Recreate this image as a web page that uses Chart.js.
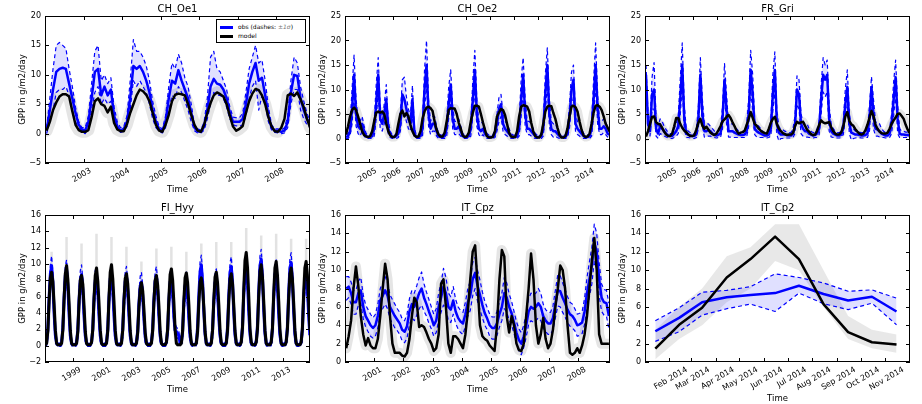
<!DOCTYPE html>
<html>
<head>
<meta charset="utf-8">
<script src="https://cdn.jsdelivr.net/npm/chart.js"></script>
<style>
  body { margin: 0; background: #fff; }
  #wrap { position: relative; width: 922px; height: 404px; overflow: hidden; background: #fff; }
  canvas { position: absolute; }
  #legend { position: absolute; left: 216px; top: 19px; width: 88px; height: 22px; border: 1px solid #000;
            background: #fff; font: 6px "DejaVu Sans", sans-serif; color: #000; z-index: 5; }
  #legend .row { position: absolute; left: 3px; height: 9px; line-height: 9px; white-space: nowrap; }
  #legend .swatch { display: inline-block; width: 13px; height: 3px; vertical-align: middle; margin-right: 5px; }
  #legend i { color: #777; }
</style>
</head>
<body>
<div id="wrap">
  <canvas id="c1" width="318" height="203" style="left:0px;top:0px"></canvas>
  <canvas id="c2" width="318" height="203" style="left:300px;top:0px"></canvas>
  <canvas id="c3" width="318" height="203" style="left:600px;top:0px"></canvas>
  <canvas id="c4" width="318" height="203" style="left:0px;top:199px"></canvas>
  <canvas id="c5" width="318" height="203" style="left:300px;top:199px"></canvas>
  <canvas id="c6" width="318" height="205" style="left:600px;top:199px"></canvas>
  <div id="legend">
    <div class="row" style="top:2px"><span class="swatch" style="background:#0000ff"></span>obs (dashes: <i>±1σ</i>)</div>
    <div class="row" style="top:11px"><span class="swatch" style="background:#000"></span>model</div>
  </div>
</div>
<script>
// ---- CH_Oe1, monthly from Jan 2002
var oe1Start = 2002
var oe1Model = [
  0.5, 2, 4, 5.3, 6.3, 6.7, 6.7, 6.3, 3.8, 1.5, 0.6, 0.3,
  0.3, 0.6, 2.8, 5.5, 6, 5, 4.7, 3.6, 4.6, 1.8, 0.7, 0.4,
  0.4, 1.6, 3.5, 5, 6.5, 7.5, 7.2, 6.6, 5.5, 3.5, 1.5, 0.5,
  0.3, 1.5, 3.2, 5.5, 6.6, 6.8, 6.7, 6.5, 5, 3.2, 1.5, 0.5,
  0.3, 1.5, 3.5, 5.2, 6.5, 7, 6.7, 6.3, 5, 3, 1.2, 0.5,
  0.8, 1.3, 3.5, 5.5, 6.8, 7.6, 7.4, 6.5, 5, 2.8, 1.2, 0.4,
  0.3, 1, 2.5, 6.5, 6.8, 6.4, 7, 5.8, 4.5, 2.5, 1]
var oe1Obs = [
  0.5, 4, 7.5, 10.5, 11, 11.2, 11, 8.5, 6, 3.5, 1.5, 0.7,
  0.5, 2, 6, 10.5, 11, 6.5, 8, 6.5, 7.5, 3, 1.2, 0.5,
  0.8, 2, 6, 11.5, 11, 11.5, 10.5, 9, 7, 4, 2, 0.8,
  0.4, 2, 6, 9, 8.5, 10.8, 9, 7.5, 6, 3.5, 1, 0.4,
  0.3, 1.2, 4, 8, 9.3, 8.5, 8.3, 7.5, 6, 3.5, 2, 2,
  2, 2.5, 5, 8.5, 10.5, 12, 9, 9.5, 6.5, 3, 1, 0.5,
  0.5, 0.3, 0.5, 2, 7, 10, 9.8, 6, 4, 2.5, 1.5]
var oe1Hi = [
  1, 6, 11, 15, 15.5, 15, 14.5, 11, 8, 4.5, 2, 1,
  1, 3, 8.5, 14, 15, 9, 10, 8.5, 9.5, 4.5, 2, 1,
  1.2, 3, 9, 16, 14, 14, 13, 11.5, 9, 5.5, 3, 1.2,
  0.8, 3, 8, 12, 11, 13.5, 12, 9.5, 8, 5, 1.5, 0.8,
  0.6, 2, 6, 13, 14, 11, 10.5, 9, 7.5, 4.5, 2.8, 2.7,
  2.7, 3.5, 7, 11, 13, 15, 12, 12.5, 9, 4.5, 1.5, 0.8,
  0.8, 0.6, 1, 3, 9, 13, 12, 8, 5.5, 3.5, 2]
var oe1Lo = [
  0, 2, 4, 7, 7.5, 7.5, 8, 6.5, 4, 2, 1, 0.3,
  0, 1, 4, 7, 8, 5, 6, 5, 5.5, 2, 0.7, 0.2,
  0.4, 1.2, 4, 9, 8, 9, 8, 7, 5, 2.5, 1, 0.4,
  0.1, 1, 4, 6.5, 6, 8, 7, 5.5, 4, 2, 0.5, 0.1,
  0.1, 0.6, 2.5, 5, 7, 6.5, 6.5, 6, 4.5, 2.5, 1.5, 1.3,
  1.3, 1.5, 3, 6, 8, 9, 4, 6.5, 5, 2, 0.6, 0.2,
  0.1, 0, 0.1, 1, 5, 7.5, 7.5, 4, 2.5, 1.5, 1]

// ---- CH_Oe2, monthly from Jan 2004
var oe2Start = 2004
var oe2Model = [
  0.8, 2.5, 4.5, 5.8, 6.3, 5.8, 4.5, 3, 1.5, 0.7, 0.4, 0.3,
  0.5, 1.5, 3.5, 5.3, 5.5, 5.3, 5.5, 5, 3, 1.5, 0.6, 0.3,
  0.3, 0.8, 3, 5, 5.7, 4.5, 5.2, 4.5, 2.8, 1.5, 0.6, 0.3,
  0.4, 1.5, 4, 5.5, 6.3, 6.5, 6.2, 5.6, 3.5, 1.8, 0.8, 0.4,
  0.4, 1.2, 3.5, 5.8, 6.2, 6.1, 6.1, 5, 3.2, 2, 0.6, 0.3,
  0.4, 1.2, 3.5, 5.3, 6.7, 6.7, 6.5, 5, 3.3, 1.8, 0.5, 0.2,
  0.2, 0.4, 1.5, 4.5, 5.3, 6, 5.8, 4.8, 3, 1.2, 0.4, 0.3,
  0.3, 1.5, 4.5, 6.5, 6.8, 6.7, 6.5, 5.5, 3.2, 1.5, 0.5, 0.2,
  0.2, 0.8, 3, 5.5, 6.5, 6.7, 6.6, 5.2, 4, 2.3, 0.8, 0.2,
  0.2, 0.5, 2, 4.5, 6.5, 6.7, 6.4, 5.5, 3.5, 1.8, 0.6, 0.3,
  0.4, 1, 3, 5.3, 6.7, 6.8, 6.5, 5.8, 4.5, 3, 2.2, 1.4]
var oe2Obs = [
  0.3, 0.5, 1.5, 6, 13, 5, 2.5, 2, 3, 1.5, 0.5, 0.3,
  0.3, 0.5, 2, 7, 13, 4, 3, 5, 8, 2, 0.8, 0.3,
  0.3, 0.5, 1, 3, 9, 8, 6, 4, 3, 8, 1, 0.3,
  0.3, 0.5, 2, 10, 15, 5, 2, 3, 3, 1.5, 0.5, 0.3,
  0.3, 0.5, 2, 7, 11, 4, 2, 2, 2.5, 1.5, 0.5, 0.3,
  0.3, 0.5, 2, 8, 14, 5, 2, 1.5, 2, 1, 0.5, 0.3,
  0.3, 0.3, 1, 3, 6, 7, 3, 2, 1.5, 1, 0.5, 0.3,
  0.3, 0.5, 2, 8, 13, 5, 2, 2, 1.5, 1, 0.5, 0.3,
  0.3, 0.5, 2, 9, 15, 5, 2, 1.5, 1.5, 1, 0.5, 0.3,
  0.3, 0.3, 1, 4, 10, 12, 3, 2, 1.5, 1, 0.5, 0.3,
  0.3, 0.5, 2, 8, 15, 6, 2, 2, 2.5, 2, 1, 0.8]
var oe2Hi = [
  0.8, 1, 3, 10, 17, 8, 4, 3.5, 4.5, 2.5, 1, 0.7,
  0.7, 1, 3.5, 11, 16.5, 6.5, 4.5, 7, 11, 3.5, 1.5, 0.7,
  0.7, 1, 2, 5, 12, 12.5, 8.5, 6, 4.5, 10.8, 2, 0.7,
  0.7, 1, 3.5, 14, 20, 8, 3.5, 4.5, 4.5, 2.5, 1, 0.7,
  0.7, 1, 3.5, 10.5, 14, 6.5, 3.5, 3.5, 4, 2.5, 1, 0.7,
  0.7, 1, 3.5, 12, 18, 8, 3.5, 3, 3.5, 2, 1, 0.7,
  0.7, 0.7, 2, 5, 8.5, 9, 5, 3.5, 3, 2, 1, 0.7,
  0.7, 1, 3.5, 12, 16.5, 8, 3.5, 3.5, 3, 2, 1, 0.7,
  0.7, 1, 3.5, 13, 18.5, 8, 3.5, 3, 3, 2, 1, 0.7,
  0.7, 0.7, 2, 6.5, 13.5, 15, 5, 3.5, 3, 2, 1, 0.7,
  0.7, 1, 3.5, 12, 19.5, 9, 3.5, 3.5, 4, 3.5, 2, 1.5]
var oe2Lo = [
  0, 0, 0.5, 3, 9, 2.5, 1, 0.5, 1.5, 0.5, 0, 0,
  0, 0, 0.5, 4, 9.5, 2, 1.5, 3, 5, 0.8, 0.2, 0,
  0, 0, 0.2, 1.5, 6, 5, 3.5, 2, 1.5, 5, 0.2, 0,
  0, 0, 0.5, 6, 11, 2.5, 0.8, 1.5, 1.5, 0.5, 0, 0,
  0, 0, 0.5, 4, 8, 2, 0.8, 0.8, 1, 0.5, 0, 0,
  0, 0, 0.5, 4.5, 10, 2.5, 0.8, 0.3, 0.8, 0.2, 0, 0,
  0, 0, 0.2, 1.5, 3.5, 4.5, 1.5, 0.8, 0.5, 0.2, 0, 0,
  0, 0, 0.5, 4.5, 9.5, 2.5, 0.8, 0.8, 0.5, 0.2, 0, 0,
  0, 0, 0.5, 5, 11, 2.5, 0.8, 0.3, 0.5, 0.2, 0, 0,
  0, 0, 0.2, 2, 6.5, 8.5, 1.5, 0.8, 0.5, 0.2, 0, 0,
  0, 0, 0.5, 4.5, 11, 3, 0.8, 0.8, 1.2, 0.8, 0.3, 0.2]

// ---- FR_Gri, monthly from Jan 2004
var griStart = 2004
var griModel = [
  0.4, 1.5, 3, 4.4, 4.5, 3.3, 3, 2.9, 2.2, 1.4, 0.8, 0.5,
  0.5, 1, 2.5, 4.2, 4.2, 3, 2.2, 1.6, 1.3, 0.8, 0.5, 0.5,
  0.7, 1.8, 3.2, 4, 2.6, 2, 2.4, 1.8, 1.2, 0.9, 0.7, 1,
  1.7, 2.5, 3.5, 3.9, 4.4, 4.8, 4.2, 3.3, 2.5, 1.6, 1, 1.2,
  1.3, 1.6, 2.8, 4, 5.4, 4.2, 3, 2.6, 2, 1.6, 1.3, 1.1,
  1, 2, 3.2, 4, 4.4, 3, 2, 1.5, 1.1, 0.9, 0.7, 0.8,
  0.8, 1.1, 2.5, 3.4, 3.1, 3.3, 3.4, 2.6, 1.8, 1.4, 0.9, 0.7,
  0.8, 1.6, 2.8, 3.7, 3.3, 3.1, 3.2, 3.4, 2.3, 1.5, 1, 0.8,
  0.8, 1.3, 2.5, 4.5, 5.4, 3.6, 2.9, 2.6, 1.9, 1.4, 1, 0.8,
  1, 1.7, 2.8, 4.2, 5.6, 4.6, 2.8, 2, 1.4, 1.1, 1, 1,
  1.2, 2, 3, 3.7, 4.3, 5, 5.1, 4.6, 4, 2.8, 1.8, 1.1]
var griObs = [
  13, 3, 1.5, 9, 10, 2, 1, 2.5, 2, 1.5, 1, 0.6,
  0.5, 0.5, 1, 1.5, 2.5, 8, 15, 4, 1, 0.8, 0.6, 0.5,
  0.5, 0.8, 4, 13, 5, 1.5, 1.5, 1.8, 1.5, 1, 0.8, 0.6,
  0.8, 1, 4, 12, 6, 1.5, 1.5, 1.5, 1.2, 1, 0.8, 0.7,
  0.7, 0.8, 1.5, 5, 14, 9, 2, 1.5, 1.2, 1, 0.8, 0.6,
  0.6, 0.8, 2, 9, 14, 3, 1.2, 0.8, 0.8, 0.8, 0.7, 0.6,
  0.6, 1, 2.5, 10, 9, 3, 2, 1.5, 1.5, 1, 0.8, 0.6,
  0.7, 1, 2, 8, 13, 12, 13, 4, 1.5, 1, 0.8, 0.6,
  0.6, 0.8, 2, 7, 10.5, 3, 1.2, 1, 0.8, 0.8, 0.7, 0.6,
  0.6, 0.7, 1, 4, 10.5, 5, 2, 1.8, 1.5, 1, 0.8, 0.6,
  0.6, 1, 3, 8, 12.5, 4, 1, 0.8, 0.8, 0.7, 0.7, 0.6]
var griHi = [
  15, 5, 3, 12.5, 15.5, 4, 2.5, 4, 3.5, 2.5, 1.8, 1.2,
  1, 1, 2, 3, 4.5, 12, 19.5, 7, 2, 1.5, 1.2, 1,
  1, 1.5, 6.5, 16.5, 8, 3, 3, 3, 2.5, 2, 1.5, 1.2,
  1.5, 2, 6.5, 15.3, 9, 3, 3, 3, 2.5, 2, 1.5, 1.3,
  1.3, 1.5, 3, 8, 18, 13, 3.5, 3, 2.5, 2, 1.5, 1.2,
  1.2, 1.5, 3.5, 13, 17.7, 5.5, 2.5, 1.8, 1.8, 1.5, 1.3, 1.2,
  1.2, 2, 4.5, 12.8, 12, 5, 3.5, 3, 3, 2, 1.5, 1.2,
  1.3, 2, 3.5, 11, 16.5, 15, 16, 6.5, 3, 2, 1.5, 1.2,
  1.2, 1.5, 3.5, 10, 14, 5, 2.5, 2, 1.5, 1.5, 1.3, 1.2,
  1.2, 1.3, 2, 6.5, 12.6, 8, 3.5, 3, 3, 2, 1.5, 1.2,
  1.2, 2, 5, 11.5, 16, 7, 2, 1.5, 1.5, 1.3, 1.3, 1.2]
var griLo = [
  12, 1.5, 0.5, 6, 6, 0.5, 0, 1, 0.8, 0.5, 0.3, 0.1,
  0, 0, 0.2, 0.5, 1, 4.5, 11, 2, 0.2, 0.2, 0.1, 0,
  0, 0.2, 2, 9.5, 2.5, 0.3, 0.3, 0.5, 0.5, 0.2, 0.2, 0.1,
  0.2, 0.2, 2, 9, 3, 0.3, 0.3, 0.3, 0.2, 0.2, 0.2, 0.2,
  0.2, 0.2, 0.3, 2.5, 10, 5.5, 0.8, 0.3, 0.2, 0.2, 0.2, 0.1,
  0.1, 0.2, 0.5, 5.5, 10, 0.8, -0.5, 0, 0, 0.1, 0.1, 0.1,
  0.1, 0.2, 1, 7, 6, 1, 0.5, 0.3, 0.3, 0.2, 0.2, 0.1,
  0.2, 0.2, 0.8, 5, 9.5, 8.5, 9.5, 1.5, 0.3, 0.2, 0.2, 0.1,
  0.1, 0.2, 0.8, 4, 7, 1, -0.3, 0, 0.1, 0.2, 0.2, 0.1,
  0.1, 0.2, 0.2, 1.5, 8, 2, 0.5, 0.5, 0.3, 0.2, 0.2, 0.1,
  0.1, 0.2, 1, 4.5, 9, 1, 0.2, 0.2, 0.2, 0.2, 0.2, 0.1]

// ---- FI_Hyy, monthly from Jan 1997
var hyyStart = 1997
var hyyModel = [
  0.1, 0.1, 0.3, 1.8, 5.5, 8.3, 9.0, 7.8, 5.0, 1.9, 0.3, 0.1,
  0.1, 0.1, 0.3, 1.9, 5.7, 8.8, 9.8, 8.1, 5.2, 1.8, 0.3, 0.1,
  0.1, 0.1, 0.3, 1.7, 5.3, 8.0, 8.6, 7.5, 4.8, 1.7, 0.3, 0.1,
  0.1, 0.1, 0.4, 2.0, 5.8, 8.6, 9.5, 7.9, 5.1, 1.9, 0.3, 0.1,
  0.1, 0.1, 0.3, 1.8, 5.9, 9.0, 9.9, 8.2, 5.3, 1.9, 0.3, 0.1,
  0.1, 0.1, 0.3, 1.9, 5.5, 8.2, 8.8, 7.6, 4.9, 1.8, 0.3, 0.1,
  0.1, 0.1, 0.3, 1.6, 4.8, 7.0, 7.7, 6.7, 4.4, 1.6, 0.3, 0.1,
  0.1, 0.1, 0.3, 1.8, 5.4, 8.0, 8.6, 7.4, 4.8, 1.7, 0.3, 0.1,
  0.1, 0.1, 0.4, 2.0, 5.8, 8.7, 9.4, 8.0, 5.2, 1.9, 0.3, 0.1,
  0.1, 0.1, 0.3, 1.8, 5.5, 8.3, 8.9, 7.7, 5.0, 1.8, 0.3, 0.1,
  0.1, 0.1, 0.3, 1.7, 5.2, 7.8, 8.3, 7.2, 4.7, 1.7, 0.3, 0.1,
  0.1, 0.1, 0.3, 1.9, 5.6, 8.4, 9.0, 7.7, 5.0, 1.8, 0.3, 0.1,
  0.1, 0.1, 0.3, 1.8, 5.5, 8.2, 8.8, 7.6, 4.9, 1.8, 0.3, 0.1,
  0.1, 0.1, 0.4, 2.2, 6.8, 10.4, 11.4, 9.6, 6.0, 2.1, 0.4, 0.1,
  0.1, 0.1, 0.4, 2.0, 6.1, 9.1, 9.9, 8.4, 5.4, 1.9, 0.3, 0.1,
  0.1, 0.1, 0.4, 2.1, 6.3, 9.5, 10.3, 8.7, 5.5, 2.0, 0.3, 0.1,
  0.1, 0.1, 0.4, 2.0, 5.8, 8.8, 9.5, 8.1, 5.2, 1.9, 0.3, 0.1,
  0.1, 0.1, 0.4, 2.1, 6.3, 9.5, 10.3, 8.7, 5.5, 2.0]
var hyyObs = [
  0.1, 0.1, 0.4, 2.0, 5.8, 8.8, 9.8, 7.8, 4.0, 1.3, 0.3, 0.1,
  0.1, 0.1, 0.4, 2.1, 5.9, 8.6, 9.3, 7.4, 3.9, 1.2, 0.3, 0.1,
  0.1, 0.1, 0.4, 1.9, 5.6, 8.0, 8.7, 6.9, 3.6, 1.2, 0.3, 0.1,
  0.1, 0.1, 0.4, 2.0, 5.7, 8.0, 8.5, 6.8, 3.6, 1.2, 0.3, 0.1,
  0.1, 0.1, 0.4, 2.0, 5.8, 8.2, 8.8, 7.0, 3.7, 1.2, 0.3, 0.1,
  0.1, 0.1, 0.4, 2.0, 5.6, 7.9, 8.5, 6.8, 3.6, 1.2, 0.3, 0.1,
  0.1, 0.1, 0.4, 1.8, 5.2, 7.3, 7.8, 6.2, 3.3, 1.1, 0.3, 0.1,
  0.1, 0.1, 0.4, 2.0, 5.6, 7.9, 8.5, 6.8, 3.6, 1.2, 0.3, 0.1,
  0.1, 0.1, 0.4, 1.9, 5.5, 7.8, 8.3, 6.6, 3.5, 1.9, 1.7, 1.5,
  1.2, 0.3, 0.4, 1.8, 5.2, 7.3, 7.8, 6.2, 3.3, 1.1, 0.3, 0.1,
  0.1, 0.1, 0.4, 2.2, 6.2, 9.1, 9.9, 7.9, 4.2, 1.4, 0.3, 0.1,
  0.1, 0.1, 0.4, 1.9, 5.4, 7.7, 8.2, 6.6, 3.5, 1.2, 0.3, 0.1,
  0.1, 0.1, 0.4, 2.2, 6.1, 9.0, 9.7, 7.8, 4.1, 1.3, 0.3, 0.1,
  0.1, 0.1, 0.5, 2.3, 6.3, 9.2, 9.8, 7.9, 4.2, 1.4, 0.3, 0.1,
  0.1, 0.1, 0.5, 2.4, 6.6, 9.8, 10.6, 8.4, 4.5, 1.5, 0.3, 0.1,
  0.1, 0.1, 0.4, 2.1, 5.9, 8.7, 9.3, 7.4, 3.9, 1.3, 0.3, 0.1,
  0.1, 0.1, 0.5, 2.3, 6.4, 9.5, 10.2, 8.1, 4.3, 1.4, 0.3, 0.1,
  0.1, 0.1, 0.4, 2.0, 5.7, 8.2, 8.8, 7.1, 3.8, 1.3]
var hyyHi = [
  0.3, 0.3, 0.8, 3.0, 7.0, 10.0, 11.0, 9.0, 5.0, 2.0, 0.6, 0.3,
  0.3, 0.3, 0.8, 3.1, 7.1, 9.8, 10.5, 8.6, 4.9, 1.9, 0.6, 0.3,
  0.3, 0.3, 0.8, 2.9, 6.8, 9.2, 9.9, 8.1, 4.6, 1.9, 0.6, 0.3,
  0.3, 0.3, 0.8, 3.0, 6.9, 9.2, 9.7, 8.0, 4.6, 1.9, 0.6, 0.3,
  0.3, 0.3, 0.8, 3.0, 7.0, 9.4, 10.0, 8.2, 4.7, 1.9, 0.6, 0.3,
  0.3, 0.3, 0.8, 3.0, 6.8, 9.1, 9.7, 8.0, 4.6, 1.9, 0.6, 0.3,
  0.3, 0.3, 0.8, 2.8, 6.4, 8.5, 9.0, 7.4, 4.3, 1.8, 0.6, 0.3,
  0.3, 0.3, 0.8, 3.0, 6.8, 9.1, 9.7, 8.0, 4.6, 1.9, 0.6, 0.3,
  0.3, 0.3, 0.8, 2.9, 6.7, 9.0, 9.5, 7.8, 4.5, 2.6, 2.3, 2.1,
  1.8, 0.6, 0.8, 2.8, 6.4, 8.5, 9.0, 7.4, 4.3, 1.8, 0.6, 0.3,
  0.3, 0.3, 0.8, 3.2, 7.4, 10.3, 11.1, 9.1, 5.2, 2.1, 0.6, 0.3,
  0.3, 0.3, 0.8, 2.9, 6.6, 8.9, 9.4, 7.8, 4.5, 1.9, 0.6, 0.3,
  0.3, 0.3, 0.8, 3.2, 7.3, 10.2, 10.9, 9.0, 5.1, 2.0, 0.6, 0.3,
  0.3, 0.3, 0.9, 3.3, 7.5, 10.4, 11.0, 9.1, 5.2, 2.1, 0.6, 0.3,
  0.3, 0.3, 0.9, 3.4, 7.8, 11.0, 11.8, 9.6, 5.5, 2.2, 0.6, 0.3,
  0.3, 0.3, 0.8, 3.1, 7.1, 9.9, 10.5, 8.6, 4.9, 2.0, 0.6, 0.3,
  0.3, 0.3, 0.9, 3.3, 7.6, 10.7, 11.4, 9.3, 5.3, 2.1, 0.6, 0.3,
  0.3, 0.3, 0.8, 3.0, 6.9, 9.4, 10.0, 8.3, 4.8, 2.0]
var hyyLo = [
  -0.1, -0.1, 0.0, 1.0, 4.3, 7.2, 8.2, 6.4, 3.0, 0.6, 0.0, -0.1,
  -0.1, -0.1, 0.0, 1.1, 4.4, 7.0, 7.7, 6.0, 2.9, 0.5, 0.0, -0.1,
  -0.1, -0.1, 0.0, 0.9, 4.1, 6.4, 7.1, 5.5, 2.6, 0.5, 0.0, -0.1,
  -0.1, -0.1, 0.0, 1.0, 4.2, 6.4, 6.9, 5.4, 2.6, 0.5, 0.0, -0.1,
  -0.1, -0.1, 0.0, 1.0, 4.3, 6.6, 7.2, 5.6, 2.7, 0.5, 0.0, -0.1,
  -0.1, -0.1, 0.0, 1.0, 4.1, 6.3, 6.9, 5.4, 2.6, 0.5, 0.0, -0.1,
  -0.1, -0.1, 0.0, 0.8, 3.8, 5.7, 6.2, 4.8, 2.3, 0.4, 0.0, -0.1,
  -0.1, -0.1, 0.0, 1.0, 4.1, 6.3, 6.9, 5.4, 2.6, 0.5, 0.0, -0.1,
  -0.1, -0.1, 0.0, 0.9, 4.0, 6.2, 6.7, 5.2, 2.5, 1.2, 1.1, 0.9,
  0.6, 0.0, 0.0, 0.8, 3.8, 5.7, 6.2, 4.8, 2.3, 0.4, 0.0, -0.1,
  -0.1, -0.1, 0.0, 1.2, 4.7, 7.5, 8.3, 6.5, 3.2, 0.6, 0.0, -0.1,
  -0.1, -0.1, 0.0, 0.9, 3.9, 6.1, 6.6, 5.2, 2.5, 0.5, 0.0, -0.1,
  -0.1, -0.1, 0.0, 1.2, 4.6, 7.4, 8.1, 6.4, 3.1, 0.6, 0.0, -0.1,
  -0.1, -0.1, 0.1, 1.3, 4.8, 7.6, 8.2, 6.5, 3.2, 0.6, 0.0, -0.1,
  -0.1, -0.1, 0.1, 1.4, 5.1, 8.2, 9.0, 7.0, 3.5, 0.7, 0.0, -0.1,
  -0.1, -0.1, 0.0, 1.1, 4.4, 7.1, 7.7, 6.0, 2.9, 0.5, 0.0, -0.1,
  -0.1, -0.1, 0.1, 1.3, 4.9, 7.9, 8.6, 6.7, 3.3, 0.6, 0.0, -0.1,
  -0.1, -0.1, 0.0, 1.0, 4.2, 6.6, 7.2, 5.7, 2.8, 0.5]
// highest daily model value of each summer (grey spikes above the humps)
var hyyGreyPeak = [11.5, 13.3, 12.5, 13.7, 13.3, 12.1, 10.3, 11.9, 12.1, 11.5, 12.5, 12.7, 12.7, 14.4, 13.5, 13.7, 13.1, 13.1]

// ---- IT_Cpz, monthly from Jan 2000
var cpzStart = 2000
var cpzModel = [
  1.5, 2.8, 4.5, 8, 10.4, 8.2, 5, 3, 1.8, 2.6, 1.8, 1.5,
  1.5, 2.5, 5, 8, 10.7, 9, 5, 2, 1, 1, 1, 0.7,
  0.6, 1, 2.5, 5, 7, 6.5, 3.8, 4, 3.8, 3.2, 2.5, 2,
  1.2, 1.5, 3, 8.5, 9, 6, 2, 1, 2.8, 2.8, 2.5, 2,
  1.5, 3, 5.5, 9, 12, 12.7, 8.5, 4, 2.8, 2.5, 2.3, 1.8,
  1.5, 1.2, 4, 9, 12.2, 11.5, 5, 3.2, 5, 4, 2, 1.3,
  1.2, 2, 5, 8, 11.8, 9, 4, 2, 3, 4.8, 2.5, 1.5,
  2, 3.5, 6, 8, 10.5, 10, 8, 4, 1, 0.8, 1, 1.5,
  1, 1.8, 3, 5, 8, 11, 13.5, 10, 3, 2, 2, 2,
  2]
var cpzObs = [
  8, 8.2, 7.5, 6.5, 6.5, 7.5, 7.8, 6, 5, 4.5, 4, 3.7,
  4, 5, 6.7, 7.2, 7.8, 7.2, 6, 5.5, 5, 4.6, 4.2, 3.5,
  3.3, 3.9, 5.5, 6.3, 6, 6.7, 7.5, 8, 7, 6.3, 5.5, 4.8,
  4, 4.5, 6, 7, 8.2, 7.5, 6, 5.7, 6.7, 5.5, 4.8, 4.4,
  4.2, 5.2, 6.5, 7.2, 9, 9.7, 8.3, 7.3, 6.2, 5.3, 4.7, 4,
  3.7, 3.7, 4.2, 5.2, 6, 7.5, 7, 6, 5.3, 4.3, 3.2, 2.4,
  2, 2.8, 4, 5.5, 6, 5.8, 6, 6.4, 6, 5, 4.5, 4.2,
  4.2, 4.8, 6.3, 7.8, 7.7, 7, 6.4, 5.7, 5.2, 5, 4.6, 4,
  4.1, 4.3, 5.5, 7.5, 9, 10.5, 13, 12, 9, 7, 6.5, 6.4,
  5]
var cpzHi = [
  9.3, 9.3, 8.7, 7.8, 7.8, 8.8, 9.2, 7.3, 6.2, 5.7, 5.2, 4.8,
  5.2, 6.3, 8, 8.6, 9.3, 8.6, 7.3, 6.8, 6.3, 5.8, 5.4, 4.7,
  4.5, 5.2, 6.9, 7.8, 7.5, 8.3, 9.2, 9.8, 8.5, 7.6, 6.8, 6,
  5.2, 5.8, 7.5, 8.6, 10.2, 9.2, 7.5, 7.1, 8.2, 6.8, 6, 5.6,
  5.4, 6.5, 8, 8.8, 10.8, 11.4, 10, 8.9, 7.6, 6.6, 5.9, 5.2,
  4.9, 4.9, 5.5, 6.6, 7.5, 9.2, 8.6, 7.4, 6.6, 5.5, 4.4, 3.6,
  3.2, 4, 5.3, 6.9, 7.5, 7.3, 7.5, 8, 7.5, 6.3, 5.7, 5.4,
  5.4, 6.1, 7.8, 9.5, 9.4, 8.6, 7.9, 7.1, 6.5, 6.3, 5.8, 5.2,
  5.3, 5.5, 6.9, 9.2, 10.9, 12.5, 15, 14, 10.8, 8.5, 7.9, 7.8,
  6.4]
var cpzLo = [
  6.7, 7, 6.3, 5.2, 5.2, 6.2, 6.4, 4.7, 3.8, 3.3, 2.8, 2.6,
  2.8, 3.7, 5.4, 5.8, 6.3, 5.8, 4.7, 4.2, 3.7, 3.4, 3, 2.3,
  2.1, 2.6, 4.1, 4.8, 4.5, 5.1, 5.8, 6.2, 5.5, 5, 4.2, 3.6,
  2.8, 3.2, 4.5, 5.4, 6.2, 5.8, 4.5, 4.3, 5.2, 4.2, 3.6, 3.2,
  3, 3.9, 5, 5.6, 7.2, 8, 6.6, 5.7, 4.8, 4, 3.5, 2.8,
  2.5, 2.5, 2.9, 3.8, 4.5, 5.8, 5.4, 4.6, 4, 3.1, 2, 1.2,
  0.8, 1.6, 2.7, 4.1, 4.5, 4.3, 4.5, 4.8, 4.5, 3.7, 3.3, 3,
  3, 3.5, 4.8, 6.1, 6, 5.4, 4.9, 4.3, 3.9, 3.7, 3.4, 2.8,
  2.9, 3.1, 4.1, 5.8, 7.1, 8.5, 11, 10, 7.2, 5.5, 5.1, 5,
  3.6]

// ---- IT_Cp2, monthly means of 2014 (x = day of year)
var cp2Days = [14, 44, 73, 104, 134, 165, 195, 226, 257, 287, 318]
var cp2Model = [1.45, 4.05, 5.9, 9.2, 11.2, 13.65, 11.2, 6.3, 3.25, 2.15, 1.9]
var cp2Obs = [3.35, 4.8, 6.5, 7.05, 7.3, 7.5, 8.3, 7.4, 6.7, 7.1, 5.5]
var cp2Hi = [4.5, 5.9, 7.6, 7.8, 8.2, 9.6, 9.2, 8.6, 7.7, 7.85, 6.95]
var cp2Lo = [2.25, 3.3, 5.1, 5.8, 6.3, 5.5, 7.5, 6.35, 5.7, 6.4, 4.05]
var cp2GreyHi = [3.5, 6, 8, 11.5, 12.5, 15, 15, 10, 5, 3.5, 3]
var cp2GreyLo = [0.3, 2.5, 4, 6.5, 8, 11, 10, 6, 2.5, 1.5, 1]
var cp2TickDays = [31, 59, 90, 120, 151, 181, 212, 243, 273, 304]
var cp2TickLabels = ['Feb 2014', 'Mar 2014', 'Apr 2014', 'May 2014', 'Jun 2014',
                     'Jul 2014', 'Aug 2014', 'Sep 2014', 'Oct 2014', 'Nov 2014']

Chart.defaults.font.family = '"DejaVu Sans", sans-serif'
Chart.defaults.color = '#000'
Chart.defaults.elements.point.radius = 0

function monthly(start, vals) {
    return vals.map(function (v, i) { return {x: start + (i + 0.5) / 12, y: v} })
}
function byDay(vals) {
    return vals.map(function (v, i) { return {x: cp2Days[i], y: v} })
}

// frame, inward ticks on all four sides and the panel title
var framePlugin = {
    id: 'frame',
    afterDraw: function (chart, args, opts) {
        var ctx = chart.ctx, a = chart.chartArea, sx = chart.scales.x, sy = chart.scales.y
        ctx.save()
        ctx.strokeStyle = '#000'
        ctx.lineWidth = 1
        ctx.beginPath()
        sx.ticks.forEach(function (t) {
            var px = Math.round(sx.getPixelForValue(t.value)) + 0.5
            ctx.moveTo(px, a.top); ctx.lineTo(px, a.top + 4)
            ctx.moveTo(px, a.bottom); ctx.lineTo(px, a.bottom - 4)
        })
        sy.ticks.forEach(function (t) {
            var py = Math.round(sy.getPixelForValue(t.value)) + 0.5
            ctx.moveTo(a.left, py); ctx.lineTo(a.left + 4, py)
            ctx.moveTo(a.right, py); ctx.lineTo(a.right - 4, py)
        })
        ctx.stroke()
        ctx.strokeRect(a.left + 0.5, a.top + 0.5, a.right - a.left - 1, a.bottom - a.top - 1)
        ctx.fillStyle = '#000'
        ctx.font = '10px "DejaVu Sans", sans-serif'
        ctx.textAlign = 'center'
        ctx.textBaseline = 'middle'
        ctx.fillText(opts.text, (a.left + a.right) / 2, a.top - 7)
        ctx.restore()
    }
}

function panel(id, p) {
    var line = {borderJoinStyle: 'round', clip: 0, fill: false}
    var lw = p.lw || 2.5
    var ds = []
    if (p.greyHi) {
        ds.push(Object.assign({}, line, {data: p.greyHi, borderWidth: 0, fill: '+1', backgroundColor: 'rgba(150,150,150,0.22)', order: 8}))
        ds.push(Object.assign({}, line, {data: p.greyLo, borderWidth: 0, order: 8}))
    } else {
        ds.push(Object.assign({}, line, {data: p.model, borderColor: 'rgba(150,150,150,0.25)', borderWidth: p.haze, borderCapStyle: 'round', order: 8}))
    }
    if (p.spikes) {
        ds.push(Object.assign({}, line, {data: p.spikes, borderColor: 'rgba(160,160,160,0.3)', borderWidth: 2.5, spanGaps: false, order: 7}))
    }
    ds.push(Object.assign({}, line, {data: p.hi, borderColor: '#0000ff', borderWidth: 1.2, borderDash: [4, 3], fill: '+1', backgroundColor: 'rgba(0,0,255,0.12)', order: 5}))
    ds.push(Object.assign({}, line, {data: p.lo, borderColor: '#0000ff', borderWidth: 1.2, borderDash: [4, 3], order: 5}))
    ds.push(Object.assign({}, line, {data: p.obs, borderColor: '#0000ff', borderWidth: lw, order: 3}))
    ds.push(Object.assign({}, line, {data: p.model, borderColor: '#000', borderWidth: lw, order: 2}))

    new Chart(document.getElementById(id), {
        type: 'line',
        data: {datasets: ds},
        plugins: [framePlugin],
        options: {
            responsive: false,
            animation: false,
            events: [],
            devicePixelRatio: 1,
            layout: {padding: {top: 16, right: 8, left: 0, bottom: 0}},
            plugins: {legend: {display: false}, tooltip: {enabled: false}, frame: {text: p.title}},
            scales: {
                x: {
                    type: 'linear', min: p.xmin, max: p.xmax,
                    grid: {display: false, drawTicks: false}, border: {display: false},
                    afterBuildTicks: function (s) { s.ticks = p.xticks.map(function (v) { return {value: v} }) },
                    afterFit: function (s) { s.height = p.xh },
                    ticks: {
                        autoSkip: false, minRotation: 30, maxRotation: 30, padding: 3,
                        labelOffset: p.labelOffset, font: {size: 8},
                        callback: function (v) { return p.xlabel(v) }
                    },
                    title: {display: true, text: 'Time', font: {size: 8.5}, padding: {top: 0, bottom: p.timePad}}
                },
                y: {
                    min: p.ymin, max: p.ymax,
                    grid: {display: false, drawTicks: false}, border: {display: false},
                    afterFit: function (s) { s.width = 45 },
                    ticks: {
                        stepSize: p.ystep, padding: 4, font: {size: 8},
                        callback: function (v) { return v < 0 ? '\u2212' + (-v) : String(v) }
                    },
                    title: {display: true, text: 'GPP in g/m2/day', font: {size: 8.5}, padding: {top: 18, bottom: 0}}
                }
            }
        }
    })
}

function yearLabel(v) { return String(v) }
function range(a, b, step) { var r = []; for (var v = a; v <= b; v += step) r.push(v); return r }

function initCharts() {
    panel('c1', {
        title: 'CH_Oe1', model: monthly(oe1Start, oe1Model), obs: monthly(oe1Start, oe1Obs),
        hi: monthly(oe1Start, oe1Hi), lo: monthly(oe1Start, oe1Lo), haze: 12,
        xmin: 2002.0, xmax: 2008.87, xticks: range(2003, 2008, 1), xlabel: yearLabel, labelOffset: 7,
        ymin: -5, ymax: 20, ystep: 5, xh: 40, timePad: 8
    })
    panel('c2', {
        title: 'CH_Oe2', model: monthly(oe2Start, oe2Model), obs: monthly(oe2Start, oe2Obs),
        hi: monthly(oe2Start, oe2Hi), lo: monthly(oe2Start, oe2Lo), haze: 9,
        xmin: 2004.0, xmax: 2014.97, xticks: range(2005, 2014, 1), xlabel: yearLabel, labelOffset: 7,
        ymin: -5, ymax: 25, ystep: 5, xh: 40, timePad: 8
    })
    panel('c3', {
        title: 'FR_Gri', model: monthly(griStart, griModel), obs: monthly(griStart, griObs),
        hi: monthly(griStart, griHi), lo: monthly(griStart, griLo), haze: 9,
        xmin: 2004.0, xmax: 2014.97, xticks: range(2005, 2014, 1), xlabel: yearLabel, labelOffset: 7,
        ymin: -5, ymax: 25, ystep: 5, xh: 40, timePad: 8
    })
    // grey spikes from each July model value up to that summer's highest daily value
    var spikes = []
    hyyGreyPeak.forEach(function (g, k) {
        var x = hyyStart + k + 0.54
        spikes.push({x: x, y: hyyModel[k * 12 + 6]}, {x: x, y: g}, {x: x, y: null})
    })
    panel('c4', {
        title: 'FI_Hyy', model: monthly(hyyStart, hyyModel), obs: monthly(hyyStart, hyyObs),
        hi: monthly(hyyStart, hyyHi), lo: monthly(hyyStart, hyyLo), haze: 4, spikes: spikes, lw: 3,
        xmin: 1997.1, xmax: 2014.8, xticks: range(1999, 2013, 2), xlabel: yearLabel, labelOffset: 7,
        ymin: -2, ymax: 16, ystep: 2, xh: 40, timePad: 7
    })
    panel('c5', {
        title: 'IT_Cpz', model: monthly(cpzStart, cpzModel), obs: monthly(cpzStart, cpzObs),
        hi: monthly(cpzStart, cpzHi), lo: monthly(cpzStart, cpzLo), haze: 10,
        xmin: 2000.0, xmax: 2009.08, xticks: range(2001, 2008, 1), xlabel: yearLabel, labelOffset: 7,
        ymin: 0, ymax: 16, ystep: 2, xh: 40, timePad: 7
    })
    panel('c6', {
        title: 'IT_Cp2', model: byDay(cp2Model), obs: byDay(cp2Obs),
        hi: byDay(cp2Hi), lo: byDay(cp2Lo), greyHi: byDay(cp2GreyHi), greyLo: byDay(cp2GreyLo),
        xmin: 1, xmax: 335, xticks: cp2TickDays,
        xlabel: function (v) { return cp2TickLabels[cp2TickDays.indexOf(v)] }, labelOffset: 18,
        ymin: 0, ymax: 16, ystep: 2, xh: 42, timePad: 0
    })
}

document.addEventListener('DOMContentLoaded', initCharts)
</script>
</body>
</html>
